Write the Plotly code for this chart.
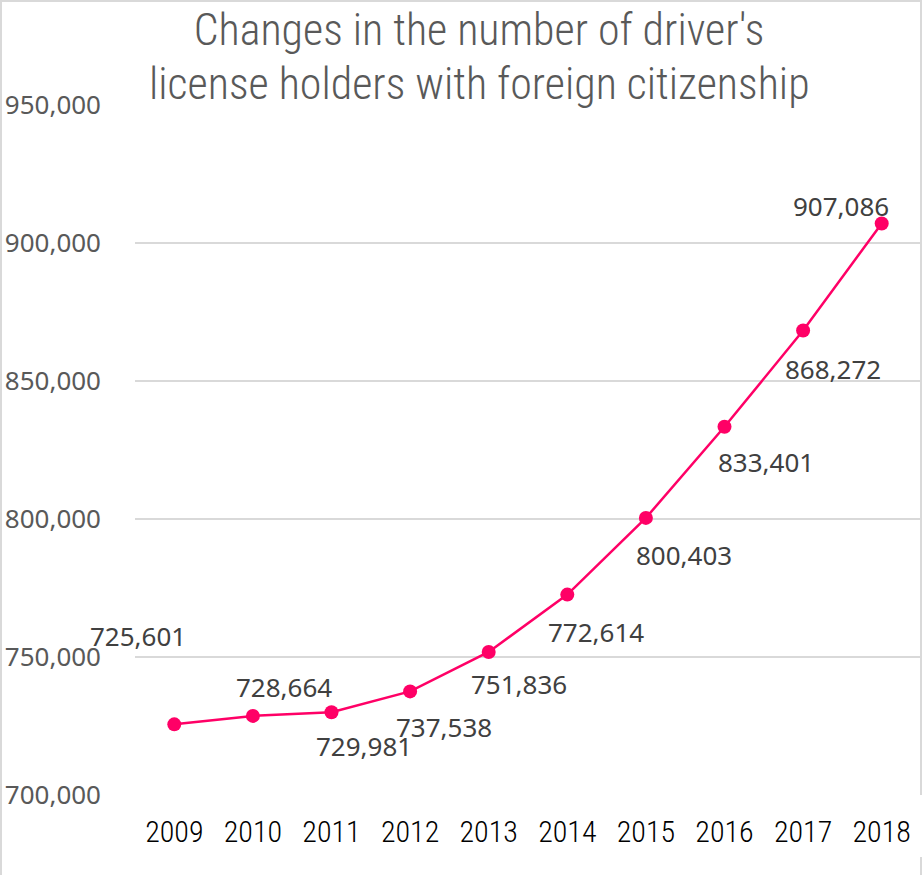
import plotly.graph_objects as go

years = ["2009", "2010", "2011", "2012", "2013", "2014", "2015", "2016", "2017", "2018"]
holders = [725601, 728664, 729981, 737538, 751836, 772614, 800403, 833401, 868272, 907086]
y_ticks = [700000, 750000, 800000, 850000, 900000, 950000]
title_lines = ["Changes in the number of driver's", "license holders with foreign citizenship"]

# label offsets (pixels) relative to each point
label_dx = [-36, 31, 32, 34, 30, 29, 38, 41, 30, -41]
label_dy = [88, 29, -34, -36, -32, -37, -37, -35, -38, 17]

PINK = "#FF0066"
GRID = "#D9D9D9"
NARROW = "Roboto Condensed, Archivo Narrow, sans-serif"
BODY = "Noto Sans, Open Sans, sans-serif"
TITLE_FONT = dict(family=NARROW, size=44, color="#595959", weight=300)

PLOT_H = 690.5

fig = go.Figure()
fig.add_trace(go.Scatter(
    x=years, y=holders, mode="lines+markers",
    line=dict(color=PINK, width=2.5),
    marker=dict(color=PINK, size=14),
    hoverinfo="x+y", showlegend=False,
))

for i, (y, dx, dy) in enumerate(zip(holders, label_dx, label_dy)):
    fig.add_annotation(x=i, y=y, text=f"{y:,}", showarrow=False,
                       xshift=dx, yshift=dy, xanchor="center", yanchor="middle",
                       font=dict(family=BODY, size=26, color="#404040"))

# second title line
fig.add_annotation(x=(479 - 135) / 786, y=1 + (105 - 84) / PLOT_H, xref="paper", yref="paper",
                   text=title_lines[1], showarrow=False, xanchor="center", yanchor="middle",
                   font=TITLE_FONT)

fig.update_layout(
    width=924, height=875,
    margin=dict(l=135, r=3, t=105, b=80),
    paper_bgcolor="white", plot_bgcolor="white",
    title=dict(text=title_lines[0], x=479/924, xanchor="center",
               y=1 - 14/875, yanchor="top", yref="container",
               font=TITLE_FONT),
    xaxis=dict(type="category", range=[-0.5, 9.5], showgrid=False, showline=False, ticks="",
               tickfont=dict(family=NARROW, size=30, color="#000000", weight=300),
               ticklabelstandoff=16),
    yaxis=dict(range=[700000, 950000], tickvals=y_ticks, tickformat=",d",
               showgrid=True, gridcolor=GRID, gridwidth=2, zeroline=False,
               showline=False, ticks="",
               tickfont=dict(family=BODY, size=26, color="#595959"),
               ticklabelstandoff=33),
    shapes=[
        dict(type="line", xref="paper", yref="paper", x0=-134/786, x1=-134/786,
             y0=-80/PLOT_H, y1=1 + 105/PLOT_H, line=dict(color=GRID, width=2)),
        dict(type="line", xref="paper", yref="paper", x0=-134/786, x1=1,
             y0=1 + 104/PLOT_H, y1=1 + 104/PLOT_H, line=dict(color=GRID, width=2)),
        dict(type="line", xref="paper", yref="paper", x0=1, x1=1,
             y0=0, y1=1 + 105/PLOT_H, line=dict(color=GRID, width=2)),
        dict(type="line", xref="paper", yref="paper", x0=1, x1=1,
             y0=-62/PLOT_H, y1=-80/PLOT_H, line=dict(color=GRID, width=2)),
    ],
)

fig.write_html("out.html")
